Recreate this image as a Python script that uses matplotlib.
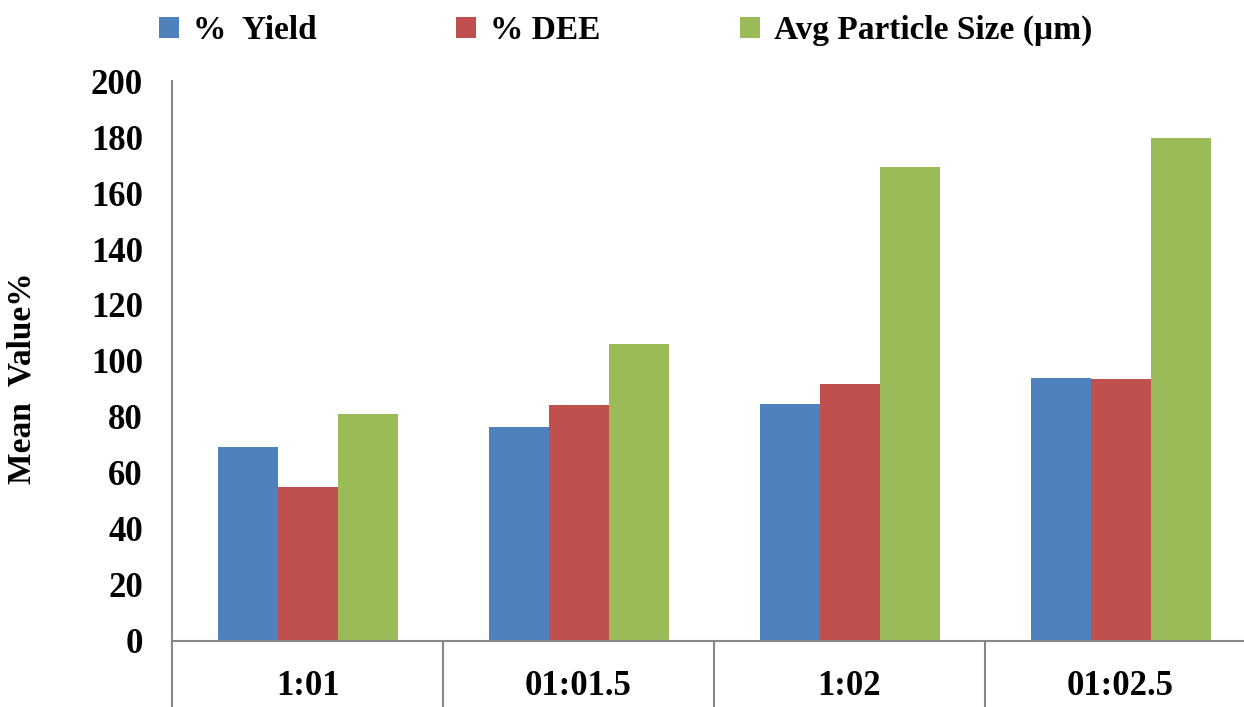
import matplotlib.pyplot as plt
import numpy as np

plt.rcParams['font.family'] = ['Liberation Serif', 'DejaVu Serif']
plt.rcParams['font.weight'] = 'bold'

# data
categories = ["1:01", "01:01.5", "1:02", "01:02.5"]
yield_pct = [69.4, 76.6, 84.8, 94.1]
dee_pct = [55.1, 84.4, 91.9, 93.4]
particle_size = [80.9, 105.9, 169.2, 179.6]

series_names = ["%  Yield", "% DEE", "Avg Particle Size (\u00b5m)"]
colors = ["#4F81BD", "#C0504D", "#9BBB59"]

fig = plt.figure(figsize=(12.44, 7.07), dpi=100)
ax = fig.add_axes([0.1383, 0.0934, 0.8714, 0.792])

x = np.arange(len(categories))
w = 0.664 / 3
bars = []
for i, (vals, name, c) in enumerate(zip([yield_pct, dee_pct, particle_size], series_names, colors)):
    b = ax.bar(x + (i - 1) * w, vals, width=w, color=c, label=name, linewidth=0)
    bars.append(b)

ax.set_xlim(-0.5, len(categories) - 0.5)
ax.set_ylim(0, 200)
ax.set_yticks(np.arange(0, 201, 20))
ax.tick_params(axis='y', length=0, labelsize=25, pad=21)

# category separators below axis and centered labels
ax.set_xticks(np.arange(-0.5, len(categories), 1.0))
ax.set_xticklabels([])
ax.tick_params(axis='x', which='major', length=48, width=1.5, color='#888888', direction='out')
ax.set_xticks(x, minor=True)
ax.set_xticklabels(categories, minor=True)
ax.tick_params(axis='x', which='minor', length=0, labelsize=25, pad=21)

for s in ['top', 'right']:
    ax.spines[s].set_visible(False)
for s in ['left', 'bottom']:
    ax.spines[s].set_color('#888888')
    ax.spines[s].set_linewidth(1.5)

ax.set_ylabel("Mean  Value%", fontsize=24, fontweight='bold')
ax.yaxis.set_label_coords(-0.1245, 0.47)

fig.legend(handles=bars, labels=series_names, loc='upper left', bbox_to_anchor=(0.104, 1.021),
           ncol=3, frameon=False, fontsize=24, handlelength=0.6, handleheight=0.6,
           handletextpad=0.4, columnspacing=4.2)

fig.savefig("out.png", dpi=100)
